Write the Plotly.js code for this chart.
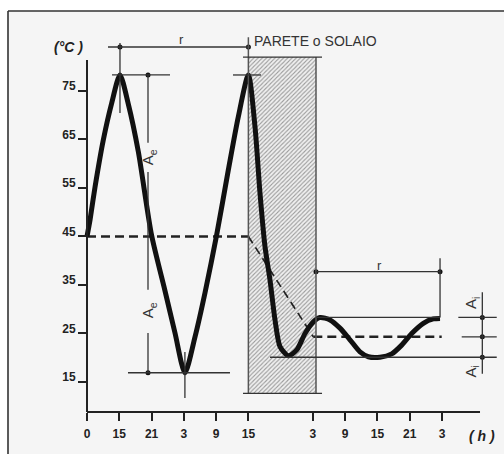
<!DOCTYPE html>
<html>
<head>
<meta charset="utf-8">
<script src="https://cdn.plot.ly/plotly-3.0.1.min.js"></script>
<style>html,body{margin:0;padding:0;background:#fff;}#chart{width:504px;height:454px;}</style>
</head>
<body>
<div id="chart"></div>
<script>
// ---- data (schematic time in hours, temperature in °C) ----
const tickPos = [9, 15, 21, 27, 33, 39, 51, 57, 63, 69, 75];
const tickHours = ['0', '15', '21', '3', '9', '15', '3', '9', '15', '21', '3'];
const tempTicks = [15, 25, 35, 45, 55, 65, 75];

// external temperature wave
const extT = [9, 9.56, 10.49, 12.03, 13.59, 15.13, 16.68, 18.54, 21.0, 23.5, 25.36, 27.2, 29.08, 30.94, 33.1, 35.27, 37.13, 39.0];
const extV = [45, 48.4, 55.2, 64.9, 72.5, 78.3, 72.3, 62.5, 45.3, 33.8, 25.1, 16.9, 24.3, 33.4, 45.3, 58.7, 69.7, 78.3];

// wave through the wall and internal (damped) wave
const intT = [39.0, 40.23, 41.16, 42.09, 43.02, 43.95, 44.88, 46.42, 47.99, 49.53, 51.07, 52.32, 54.18, 56.03, 57.89, 59.75, 61.3, 63.47, 65.65, 67.5, 69.36, 71.52, 73.38, 74.63];
const intV = [78.3, 67.6, 53.9, 42.9, 36.0, 27.8, 22.3, 20.4, 21.6, 25.0, 27.4, 28.3, 27.8, 26.1, 23.7, 21.2, 20.2, 20.1, 20.8, 22.6, 25.0, 27.1, 28.0, 28.1];

// mean-temperature (dashed) path
const meanT = [9, 39, 51.07, 74.94];
const meanV = [45, 45, 24.3, 24.3];

// wall ("PARETE o SOLAIO") extent
const wallT = [39, 51.57];
const wallV = [12.67, 82.0];

// ---- derived values ----
const extMax = Math.max(...extV);
const extMin = Math.min(...extV);
const tPeak1 = extT[extV.indexOf(extMax)];
const tTrough = extT[extV.indexOf(extMin)];
const outside = intV.slice(11);
const intMax = Math.max(...outside);
const intMin = Math.min(...outside);
const intMean = meanV[meanV.length - 1];
const tEnd = intT[intT.length - 1];

const X0 = -5.687, X1 = 86.52, Y0 = 0.15, Y1 = 91.49;
const xAxisV = 8.81;
const curveT = extT.concat(intT.slice(1));
const curveV = extV.concat(intV.slice(1));

const INK = '#333';
const FONT = 'Liberation Sans, Arial, sans-serif';

function L(x0, y0, x1, y1, w, col) {
  return {type: 'line', xref: 'x', yref: 'y', x0: x0, y0: y0, x1: x1, y1: y1,
          line: {color: col || INK, width: w || 1.3}};
}
const aeT = 20.34;
const shapes = [
  // axes lines
  L(tickPos[0], 81.4, tickPos[0], xAxisV, 2, '#222'),
  L(tickPos[0], xAxisV, 82.06, xAxisV, 2, '#222'),
  // top r dimension
  L(12.9, 84.07, 39.3, 84.07),
  L(tPeak1, 84.9, tPeak1, 70.46),
  // wall edges
  L(wallT[0], 86.1, wallT[0], wallV[0], 1.5, '#555'),
  L(wallT[1], wallV[1], wallT[1], wallV[0], 1.5, '#555'),
  L(38.0, wallV[1], 52.69, wallV[1]),
  L(38.0, wallV[0], 52.69, wallV[0]),
  // peaks and trough
  L(13.65, extMax, 24.43, extMax),
  L(36.14, extMax, 41.35, extMax),
  L(16.62, extMin, 35.58, extMin),
  L(tTrough, 21.2, tTrough, 11.7),
  // Ae vertical (with gaps for labels)
  L(aeT, extMax, aeT, 64.3),
  L(aeT, 58.3, aeT, 34.0),
  L(aeT, 25.1, aeT, extMin),
  // right r dimension
  L(wallT[1], 37.74, tEnd, 37.74),
  L(tEnd, 40.5, tEnd, intMax),
  L(wallT[1], intMax, tEnd, intMax),
  // Ai dimension
  L(78.03, intMax, 85.17, intMax),
  L(78.66, intMean, 85.17, intMean),
  L(43.02, intMin, 85.17, intMin),
  L(82.49, 33.5, 82.49, 16.7),
  // frame
  {type: 'line', xref: 'paper', yref: 'paper', x0: 0, y0: 0, x1: 0, y1: 1, line: {color: '#333', width: 1.6}},
  {type: 'line', xref: 'paper', yref: 'paper', x0: 0, y0: 1, x1: 1, y1: 1, line: {color: '#333', width: 1.6}}
];

const traces = [
  {type: 'scatter', mode: 'lines', hoverinfo: 'skip',
   x: [wallT[0], wallT[1], wallT[1], wallT[0], wallT[0]],
   y: [wallV[0], wallV[0], wallV[1], wallV[1], wallV[0]],
   fill: 'toself', fillcolor: '#e6e6e6', line: {width: 0},
   fillpattern: {shape: '/', bgcolor: '#f0f0f0', fgcolor: '#9a9a9a', size: 3, solidity: 0.35}},
  {type: 'scatter', mode: 'lines', x: meanT.slice(0, 2), y: meanV.slice(0, 2),
   line: {color: '#222', width: 2.5, dash: '9px,5px'}},
  {type: 'scatter', mode: 'lines', x: meanT.slice(1, 3), y: meanV.slice(1, 3),
   line: {color: '#222', width: 1.7, dash: '8px,5px'}},
  {type: 'scatter', mode: 'lines', x: meanT.slice(2), y: meanV.slice(2),
   line: {color: '#222', width: 2.5, dash: '9px,5px'}},
  {type: 'scatter', mode: 'lines', x: curveT, y: curveV,
   line: {color: '#111', width: 5, shape: 'spline', smoothing: 0.7}},
  {type: 'scatter', mode: 'markers',
   x: [tPeak1, wallT[0], aeT, aeT, wallT[1], tEnd, 82.49, 82.49, 82.49],
   y: [84.07, 84.07, extMax, extMin, 37.74, 37.74, intMax, intMean, intMin],
   marker: {color: '#111', size: 5}}
];

function A(text, x, y, opts) {
  return Object.assign({text: text, x: x, y: y, xref: 'x', yref: 'y', showarrow: false,
    font: {family: FONT, size: 13, color: INK}}, opts || {});
}
const annotations = [
  A('(°C )', 5.65, 84.13, {font: {family: FONT, size: 14, color: '#222', weight: 'bold', style: 'italic'}}),
  A('( h )', 82.43, 3.87, {font: {family: FONT, size: 14, color: '#222', weight: 'bold', style: 'italic'}}),
  A('r', 26.48, 85.7, {font: {family: FONT, size: 13, color: INK}}),
  A('PARETE o SOLAIO', 39.67, 85.3, {xanchor: 'left', font: {family: FONT, size: 14, color: INK}}),
  A('r', 63.34, 39.1, {font: {family: FONT, size: 13, color: INK}}),
  A('A<sub>e</sub>', 20.6, 61.4, {textangle: -90, font: {family: FONT, size: 15, color: INK}}),
  A('A<sub>e</sub>', 20.6, 29.85, {textangle: -90, font: {family: FONT, size: 15, color: INK}}),
  A('A<sub>i</sub>', 80.52, 31.23, {textangle: -90, font: {family: FONT, size: 15, color: INK}}),
  A('A<sub>i</sub>', 80.52, 17.12, {textangle: -90, font: {family: FONT, size: 15, color: INK}})
];

const layout = {
  width: 504, height: 454,
  margin: {l: 8, r: 0, t: 11, b: 0, pad: 0},
  paper_bgcolor: '#ffffff', plot_bgcolor: '#f5f5f5',
  showlegend: false,
  xaxis: {range: [X0, X1], anchor: 'free', position: (xAxisV - Y0) / (Y1 - Y0),
    showline: false, showgrid: false, zeroline: false,
    ticks: 'outside', ticklen: 8, tickwidth: 2, tickcolor: '#222',
    tickmode: 'array', tickvals: tickPos, ticktext: tickHours, ticklabelstandoff: 3,
    tickfont: {family: FONT, size: 12, color: '#222', weight: 'bold'}},
  yaxis: {range: [Y0, Y1], anchor: 'free', position: (tickPos[0] - X0) / (X1 - X0),
    showline: false, showgrid: false, zeroline: false,
    ticks: 'outside', ticklen: 9, tickwidth: 2, tickcolor: '#222',
    tickmode: 'array', tickvals: tempTicks, ticklabelshift: -5,
    tickfont: {family: FONT, size: 12, color: '#222', weight: 'bold'}},
  shapes: shapes,
  annotations: annotations
};

Plotly.newPlot('chart', traces, layout, {staticPlot: true, displayModeBar: false});
</script>
</body>
</html>
